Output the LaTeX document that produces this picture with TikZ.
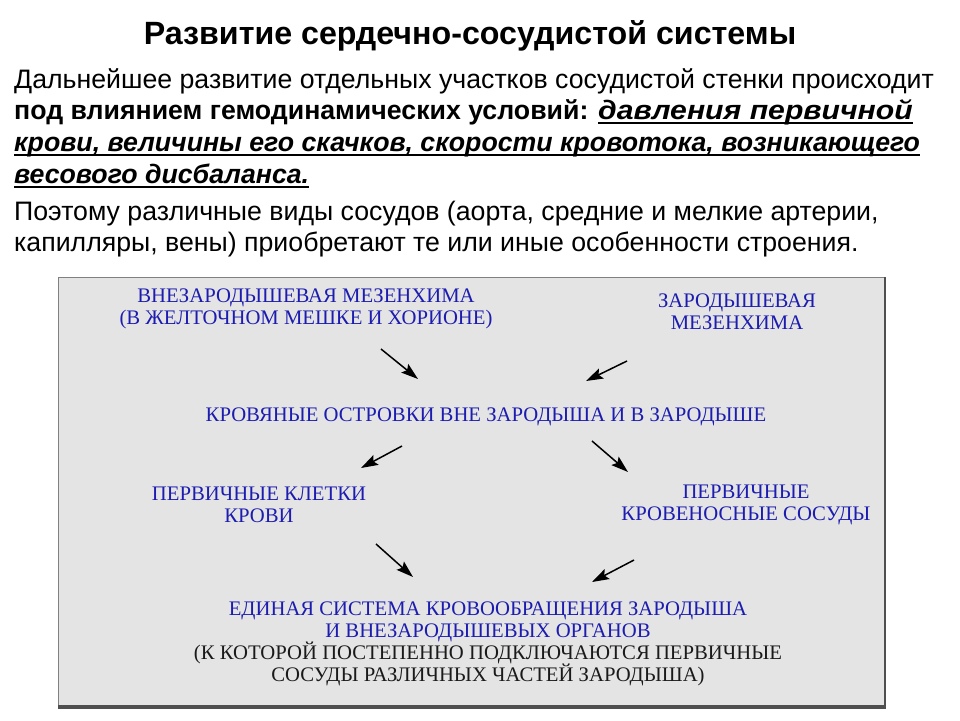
\documentclass[tikz,border=0pt]{standalone}
\usepackage{fontspec}
\setmainfont{Liberation Serif}
\newfontfamily\slideSans{Liberation Sans}
\usepackage{graphicx}
\usepackage{xcolor}
\definecolor{schemeBlue}{HTML}{1C1CB0}
\definecolor{schemeInk}{HTML}{1A1A1A}
\definecolor{frameFill}{HTML}{E4E4E4}
\definecolor{frameEdge}{HTML}{808080}
\definecolor{frameShade}{HTML}{4F4F4F}
\usepackage{tikz}
\usetikzlibrary{positioning,arrows.meta,calc}
% thick underline as on the slide
\newcommand{\heavyUnderline}[1]{\setbox0=\hbox{#1}\rlap{\rule[-4.5pt]{\wd0}{1.8pt}}\box0}
\tikzset{%
  slideTitle/.style={anchor=base, inner sep=0pt,
    font=\slideSans\bfseries\fontsize{32.2}{36}\selectfont},
  slideLine/.style={anchor=base west, inner sep=0pt,
    font=\slideSans\fontsize{26.7}{31}\selectfont},
  stageLabel/.style={align=center, inner sep=0pt, text=schemeBlue,
    font=\fontsize{20.7}{22}\selectfont},
  flowArrow/.style={-{Stealth[length=17pt,width=11pt,inset=3pt]}, line width=1.5pt, black},
}

\begin{document}
\begin{tikzpicture}[x=1pt,y=-1pt]
  \useasboundingbox (0,0) rectangle (960,720);
  % heading and text of the slide
  \node[slideTitle] (title) at (470,44) {Развитие сердечно-сосудистой системы};
  \node[slideLine] (line1) at (14,88) {Дальнейшее развитие отдельных участков сосудистой стенки происходит};
  \node[slideLine] (line2) at (14,119) {\bfseries под влиянием гемодинамических условий: \scalebox{1.13}[1]{\heavyUnderline{\itshape давления первичной}}};
  \node[slideLine] (line3) at (14,151) {\bfseries\itshape \heavyUnderline{крови, величины его скачков, скорости кровотока, возникающего}};
  \node[slideLine] (line4) at (14,183) {\bfseries\itshape \heavyUnderline{весового дисбаланса.}};
  \node[slideLine] (line5) at (14,220) {Поэтому различные виды сосудов (аорта, средние и мелкие артерии,};
  \node[slideLine] (line6) at (14,251) {капилляры, вены) приобретают те или иные особенности строения.};

  % grey frame of the scheme
  \fill[frameFill] (58,277) rectangle (885,706);
  \draw[frameEdge, line width=1pt] (58,706) -- (58,277) -- (885,277);
  \draw[frameShade, line width=2pt] (885,277) -- (885,707);
  \draw[frameShade, line width=3.5pt] (58,707) -- (886,707);

  % stages
  \node[stageLabel] (extMes)  at (306,309) {ВНЕЗАРОДЫШЕВАЯ МЕЗЕНХИМА\\(В ЖЕЛТОЧНОМ МЕШКЕ И ХОРИОНЕ)};
  \node[stageLabel] (embMes)  at (737,312) {ЗАРОДЫШЕВАЯ\\МЕЗЕНХИМА};
  \node[stageLabel] (islands) at (486,417) {КРОВЯНЫЕ ОСТРОВКИ ВНЕ ЗАРОДЫША И В ЗАРОДЫШЕ};
  \node[stageLabel] (cells)   at (259,505) {ПЕРВИЧНЫЕ КЛЕТКИ\\КРОВИ};
  \node[stageLabel] (vessels) at (746,505) {ПЕРВИЧНЫЕ\\КРОВЕНОСНЫЕ СОСУДЫ};
  \node[stageLabel] (unified) at (488,644) {ЕДИНАЯ СИСТЕМА КРОВООБРАЩЕНИЯ ЗАРОДЫША\\И ВНЕЗАРОДЫШЕВЫХ ОРГАНОВ\\
    \textcolor{schemeInk}{(К КОТОРОЙ ПОСТЕПЕННО ПОДКЛЮЧАЮТСЯ ПЕРВИЧНЫЕ}\\
    \textcolor{schemeInk}{СОСУДЫ РАЗЛИЧНЫХ ЧАСТЕЙ ЗАРОДЫША)}};

  \draw[flowArrow] ([xshift=75,yshift=-40]extMes.center)   -- ([xshift=-68,yshift=38]islands.center);
  \draw[flowArrow] ([xshift=-110,yshift=-49]embMes.center) -- ([xshift=100,yshift=36]islands.center);
  \draw[flowArrow] ([xshift=-84,yshift=-29]islands.center) -- ([xshift=102,yshift=37]cells.center);
  \draw[flowArrow] ([xshift=106,yshift=-24]islands.center) -- ([xshift=-118,yshift=33]vessels.center);
  \draw[flowArrow] ([xshift=117,yshift=-39]cells.center)   -- ([xshift=-75,yshift=67]unified.center);
  \draw[flowArrow] ([xshift=-112,yshift=-55]vessels.center) -- ([xshift=104,yshift=62]unified.center);
\end{tikzpicture}
\end{document}
